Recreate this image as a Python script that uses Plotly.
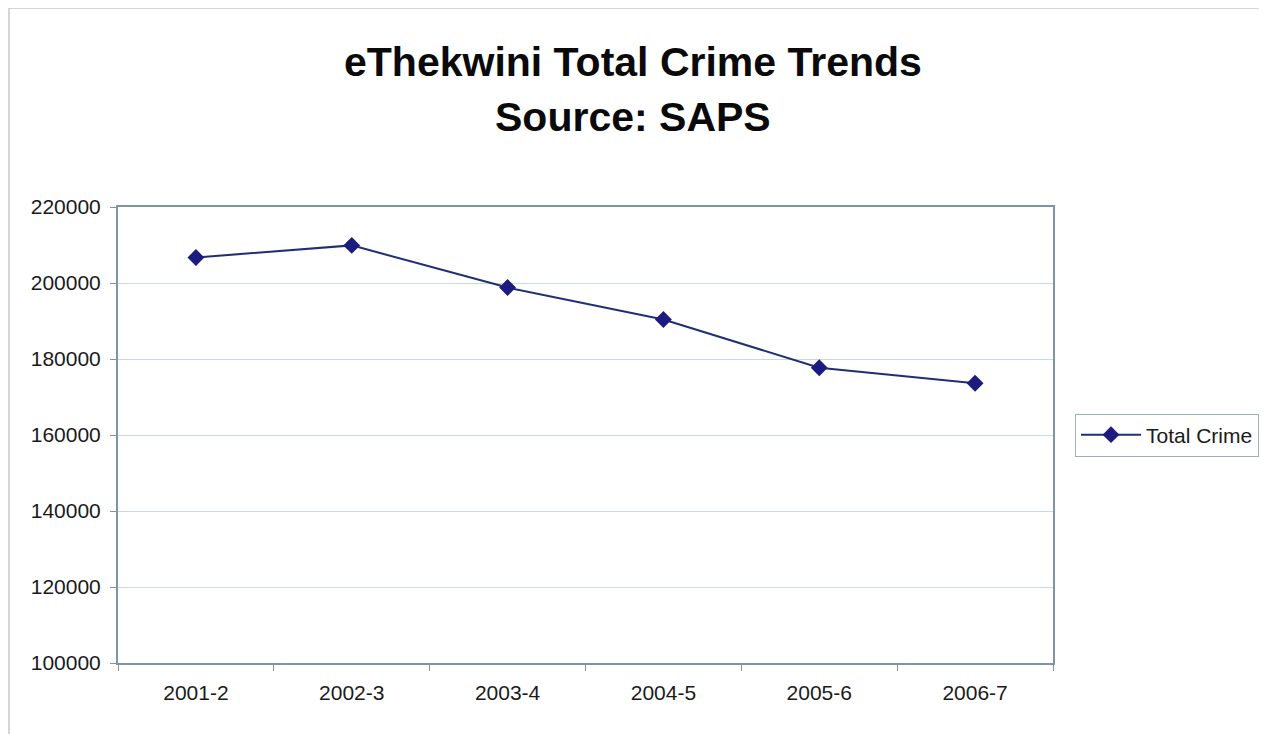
import plotly.graph_objects as go

categories = ["2001-2", "2002-3", "2003-4", "2004-5", "2005-6", "2006-7"]
total_crime = [206700, 209900, 198800, 190400, 177700, 173600]
y_ticks = [100000, 120000, 140000, 160000, 180000, 200000, 220000]

OFF = 8  # page body margin offset
W, H = 1267 - OFF, 734 - OFF
L, R, T, B = 118 - OFF, 1053 - OFF, 207 - OFF, 663 - OFF
pw, ph = R - L, B - T

def px_x(x):
    return (x - OFF - L) / pw

def px_y(y):
    return (B - (y - OFF)) / ph

fig = go.Figure()
fig.add_trace(go.Scatter(
    x=categories, y=total_crime, name="Total Crime", mode="lines+markers",
    line=dict(color="#1E2F78", width=2),
    marker=dict(symbol="diamond", size=13, color="#1B1B80",
                line=dict(color="#1B1B80", width=0)),
))

font = "Liberation Sans, Arial, sans-serif"
fig.update_layout(
    width=W, height=H,
    margin=dict(l=L, r=W - R, t=T, b=H - B, autoexpand=False),
    paper_bgcolor="white", plot_bgcolor="white",
    font=dict(family=font, size=21, color="#1A1A1A"),
    showlegend=True,
    legend=dict(x=px_x(1075), y=px_y(435), xanchor="left", yanchor="middle",
                bordercolor="#9FB0BC", borderwidth=1, bgcolor="white",
                font=dict(size=21, family=font, color="#1A1A1A"),
                itemwidth=60),
    xaxis=dict(type="category", range=[-0.5, 5.5], showgrid=False,
               ticks="outside", tickson="boundaries", ticklen=6, tickcolor="#7F95A5",
               ticklabelstandoff=10, automargin=False,
               showline=True, linecolor="#7F95A5", linewidth=2, mirror=True,
               tickfont=dict(size=21, family=font, color="#1A1A1A")),
    yaxis=dict(range=[100000, 220000], tickvals=y_ticks, tickformat="d", showgrid=True,
               gridcolor="#C9D9E2", gridwidth=1,
               ticks="outside", ticklen=6, tickcolor="#7F95A5",
               ticklabelstandoff=5, automargin=False,
               showline=True, linecolor="#7F95A5", linewidth=2, mirror=True,
               zeroline=False,
               tickfont=dict(size=21, family=font, color="#1A1A1A")),
    annotations=[
        dict(text="<b>eThekwini Total Crime Trends</b>", x=px_x(633), y=px_y(62),
             xref="paper", yref="paper", showarrow=False, xanchor="center", yanchor="middle",
             font=dict(size=41, family=font, color="#0A0A0A")),
        dict(text="<b>Source: SAPS</b>", x=px_x(633), y=px_y(117),
             xref="paper", yref="paper", showarrow=False, xanchor="center", yanchor="middle",
             font=dict(size=41, family=font, color="#0A0A0A")),
    ],
    shapes=[
        dict(type="rect", xref="paper", yref="paper",
             x0=px_x(9), x1=px_x(1264), y0=px_y(760), y1=px_y(8),
             line=dict(color="#C8C8C8", width=1.5), layer="below"),
    ],
)

fig.write_html("out.html")
